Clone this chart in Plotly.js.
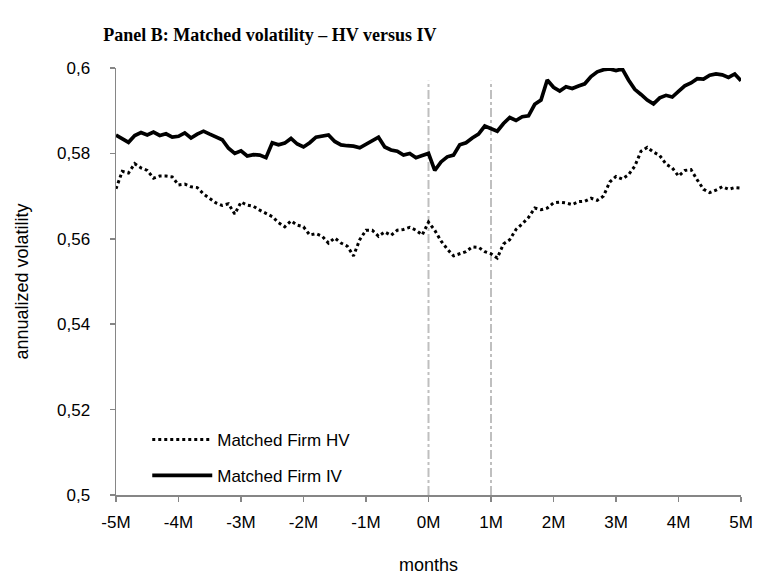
<!DOCTYPE html>
<html>
<head>
<meta charset="utf-8">
<script src="https://cdn.plot.ly/plotly-3.0.1.min.js"></script>
<style>html,body{margin:0;padding:0;background:#fff;}#chart{width:758px;height:585px;}</style>
</head>
<body>
<div id="chart"></div>
<script>
// months relative to event (step 0.1 month)
const months = [
-5.0,-4.9,-4.8,-4.7,-4.6,-4.5,-4.4,-4.3,-4.2,-4.1,
-4.0,-3.9,-3.8,-3.7,-3.6,-3.5,-3.4,-3.3,-3.2,-3.1,
-3.0,-2.9,-2.8,-2.7,-2.6,-2.5,-2.4,-2.3,-2.2,-2.1,
-2.0,-1.9,-1.8,-1.7,-1.6,-1.5,-1.4,-1.3,-1.2,-1.1,
-1.0,-0.9,-0.8,-0.7,-0.6,-0.5,-0.4,-0.3,-0.2,-0.1,
0.0,0.1,0.2,0.3,0.4,0.5,0.6,0.7,0.8,0.9,
1.0,1.1,1.2,1.3,1.4,1.5,1.6,1.7,1.8,1.9,
2.0,2.1,2.2,2.3,2.4,2.5,2.6,2.7,2.8,2.9,
3.0,3.1,3.2,3.3,3.4,3.5,3.6,3.7,3.8,3.9,
4.0,4.1,4.2,4.3,4.4,4.5,4.6,4.7,4.8,4.9,5.0];

const matchedIV = [
0.5843,0.5835,0.5826,0.5842,0.5849,0.5843,0.5850,0.5842,0.5846,0.5838,
0.5840,0.5848,0.5836,0.5845,0.5852,0.5845,0.5838,0.5832,0.5812,0.5800,
0.5806,0.5794,0.5797,0.5796,0.5790,0.5825,0.5820,0.5824,0.5835,0.5822,
0.5815,0.5825,0.5838,0.5840,0.5843,0.5828,0.5820,0.5818,0.5817,0.5813,
0.5822,0.5830,0.5838,0.5815,0.5808,0.5805,0.5796,0.5800,0.5790,0.5795,
0.5800,0.5760,0.5780,0.5792,0.5796,0.5820,0.5825,0.5836,0.5845,0.5864,
0.5858,0.5852,0.5870,0.5884,0.5877,0.5886,0.5888,0.5915,0.5925,0.5972,
0.5955,0.5946,0.5956,0.5952,0.5958,0.5963,0.5980,0.5991,0.5996,0.5998,
0.5994,0.5998,0.5972,0.5950,0.5938,0.5925,0.5916,0.5930,0.5936,0.5932,
0.5945,0.5958,0.5965,0.5975,0.5974,0.5983,0.5986,0.5984,0.5978,0.5986,0.5970];

const matchedHV = [
0.5717,0.5758,0.5754,0.5776,0.5766,0.5760,0.5742,0.5747,0.5747,0.5745,
0.5726,0.5728,0.5722,0.5720,0.5705,0.5695,0.5684,0.5678,0.5682,0.5658,
0.5686,0.5679,0.5676,0.5667,0.5660,0.5652,0.5638,0.5628,0.5642,0.5632,
0.5628,0.5609,0.5612,0.5606,0.5590,0.5602,0.5590,0.5583,0.5560,0.5598,
0.5620,0.5620,0.5606,0.5616,0.5608,0.5620,0.5622,0.5627,0.5620,0.5609,
0.5639,0.5620,0.5595,0.5576,0.5560,0.5565,0.5570,0.5581,0.5580,0.5570,
0.5565,0.5555,0.5588,0.5598,0.5622,0.5635,0.5650,0.5672,0.5668,0.5672,
0.5684,0.5686,0.5684,0.5680,0.5687,0.5688,0.5695,0.5690,0.5700,0.5733,
0.5746,0.5740,0.5750,0.5770,0.5805,0.5814,0.5803,0.5795,0.5775,0.5766,
0.5747,0.5760,0.5762,0.5738,0.5716,0.5708,0.5714,0.5722,0.5716,0.5720,0.5719];

const tickMonths = [-5,-4,-3,-2,-1,0,1,2,3,4,5];
const tickLabels = ["-5M","-4M","-3M","-2M","-1M","0M","1M","2M","3M","4M","5M"];
const eventMonths = [0, 1];
const seriesNames = ["Matched Firm HV", "Matched Firm IV"];

const axisColor = "#868686";
const sans = "Liberation Sans, Arial, sans-serif";
const tickFont = {family: sans, size: 17, color: "#000"};

const traces = [
  {x: months, y: matchedHV, type: "scatter", mode: "lines", name: seriesNames[0],
   line: {color: "#000", width: 3, dash: "dot"}, legend: "legend"},
  {x: months, y: matchedIV, type: "scatter", mode: "lines", name: seriesNames[1],
   line: {color: "#000", width: 3.7}, legend: "legend2"}
];

const shapes = eventMonths.map(m => ({
  type: "line", xref: "x", yref: "paper", x0: m, x1: m, y0: 0, y1: 0.97,
  line: {color: "#bfbfbf", width: 2, dash: "dashdot"}, layer: "below"
}));

const legendFont = {family: sans, size: 17, color: "#000"};

const layout = {
  width: 758, height: 585,
  margin: {l: 116, r: 17, t: 68, b: 90},
  paper_bgcolor: "#fff", plot_bgcolor: "#fff",
  separators: ", ",
  title: {text: "<b>Panel B: Matched volatility – HV versus IV</b>",
          font: {family: "Liberation Serif, Times New Roman, serif", size: 18, color: "#000"},
          x: 0.356, xanchor: "center", xref: "container", y: 0.94, yanchor: "middle", yref: "container"},
  xaxis: {range: [-5, 5], tickvals: tickMonths, ticktext: tickLabels,
          showgrid: false, zeroline: false, showline: true, linecolor: axisColor, linewidth: 1.5,
          ticks: "outside", ticklen: 5, tickcolor: axisColor, tickwidth: 1.5,
          ticklabelstandoff: 6,
          tickfont: tickFont, fixedrange: true,
          title: {text: "months", font: {family: sans, size: 18, color: "#000"}, standoff: 27}},
  yaxis: {range: [0.5, 0.6], dtick: 0.02, tick0: 0.5,
          showgrid: false, zeroline: false, showline: true, linecolor: axisColor, linewidth: 1.5,
          ticks: "outside", ticklen: 5, tickcolor: axisColor, tickwidth: 1.5,
          ticklabelstandoff: 16,
          tickfont: tickFont, fixedrange: true,
          title: {text: "annualized volatility", font: {family: sans, size: 18, color: "#000"}, standoff: 23}},
  shapes: shapes,
  showlegend: true,
  legend: {x: 0.05, y: 0.129, xanchor: "left", yanchor: "middle", bgcolor: "rgba(0,0,0,0)",
           font: legendFont, itemwidth: 60},
  legend2: {x: 0.05, y: 0.045, xanchor: "left", yanchor: "middle", bgcolor: "rgba(0,0,0,0)",
           font: legendFont, itemwidth: 60}
};

Plotly.newPlot("chart", traces, layout, {displayModeBar: false, staticPlot: true});
</script>
</body>
</html>
